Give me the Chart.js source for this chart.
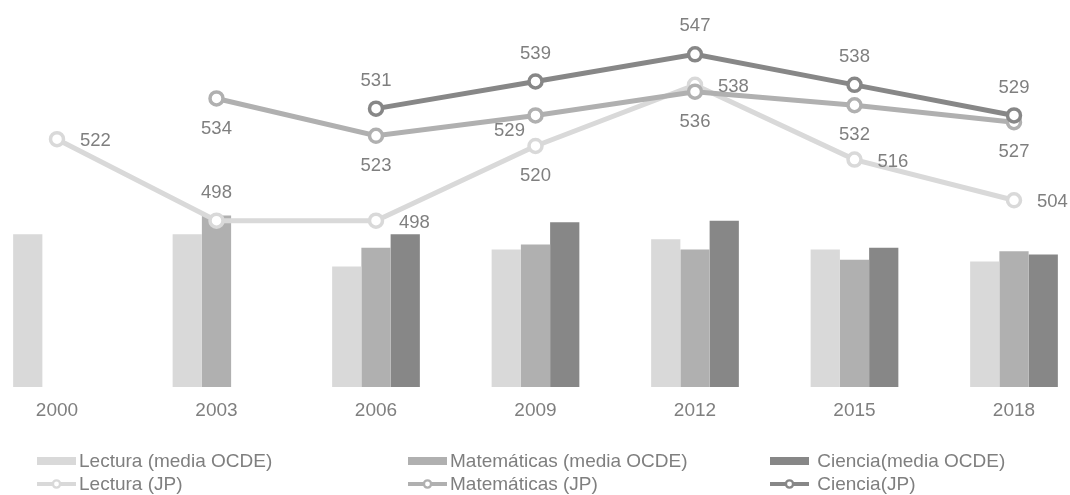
<!DOCTYPE html>
<html>
<head>
<meta charset="utf-8">
<script src="https://cdn.jsdelivr.net/npm/chart.js@4.4.0/dist/chart.umd.min.js"></script>
<style>
    html, body { margin: 0; padding: 0; background: #fff; }
    #wrap { position: relative; width: 1070px; height: 495px; font-family: "Liberation Sans", Arial, sans-serif; }
    #chart-box { position: absolute; left: 0; top: 0; width: 1070px; height: 422px; }
    #legend { position: absolute; left: 0; top: 0; width: 1070px; height: 495px; pointer-events: none; }
    .leg-item { position: absolute; display: flex; align-items: center; height: 23px; font-size: 19px; color: #7f7f7f; white-space: pre; }
    .leg-item svg { margin-right: 3px; }
</style>
</head>
<body>
<div id="wrap">
    <div id="chart-box"><canvas id="pisa-chart"></canvas></div>
    <div id="legend"></div>
</div>
<script>
const years = ['2000', '2003', '2006', '2009', '2012', '2015', '2018'];

// media OCDE (bars)
const lecturaOcde = [494, 494, 484.5, 489.5, 492.5, 489.5, 486];
const matematicasOcde = [null, 499.5, 490, 491, 489.5, 486.5, 489];
const cienciaOcde = [null, null, 494, 497.5, 498, 490, 488];

// Japón (lines)
const lecturaJp = [522, 498, 498, 520, 538, 516, 504];
const matematicasJp = [null, 534, 523, 529, 536, 532, 527];
const cienciaJp = [null, null, 531, 539, 547, 538, 529];

const seriesNames = [
    'Lectura (media OCDE)', 'Matemáticas (media OCDE)', ' Ciencia(media OCDE)',
    'Lectura (JP)', 'Matemáticas (JP)', ' Ciencia(JP)'
];

const axisMin = 449;
const axisMax = 563;

const colorLectura = '#d9d9d9';
const colorMatematicas = '#b0b0b0';
const colorCiencia = '#878787';
const textColor = '#7f7f7f';

// where each value label sits relative to its point
const lecturaLabelPos = ['right', 'above', 'right', 'below', 'right', 'right', 'right'];
const matematicasLabelPos = [null, 'below', 'below', 'belowLeft', 'below', 'below', 'below'];
const cienciaLabelPos = [null, null, 'above', 'above', 'above', 'above', 'above'];

const pointLabels = {
    id: 'pointLabels',
    afterDatasetsDraw(chart) {
        const ctx = chart.ctx;
        ctx.save();
        ctx.font = '18.5px "Liberation Sans", Arial, sans-serif';
        ctx.fillStyle = textColor;
        ctx.textBaseline = 'middle';
        chart.data.datasets.forEach((ds, i) => {
            if (!ds.labelPos) return;
            const meta = chart.getDatasetMeta(i);
            meta.data.forEach((pt, j) => {
                const v = ds.data[j];
                const pos = ds.labelPos[j];
                if (v === null || !pos) return;
                let x = pt.x, y = pt.y;
                ctx.textAlign = 'center';
                if (pos === 'right') { ctx.textAlign = 'left'; x += 23; y += 2; }
                else if (pos === 'above') { y -= 28; }
                else if (pos === 'below') { y += 30; }
                else if (pos === 'belowLeft') { x -= 26; y += 15; }
                ctx.fillText(String(v), x, y);
            });
        });
        ctx.restore();
    }
};

function lineSet(label, data, color, labelPos, order) {
    return {
        type: 'line',
        label: label,
        data: data,
        borderColor: color,
        borderWidth: 5,
        pointRadius: 6.5,
        pointBorderWidth: 3.5,
        pointBackgroundColor: '#ffffff',
        pointBorderColor: color,
        tension: 0,
        clip: false,
        labelPos: labelPos,
        order: order
    };
}

function barSet(label, data, color) {
    return {
        type: 'bar',
        label: label,
        data: data,
        base: axisMin,
        backgroundColor: color,
        borderWidth: 0,
        clip: { left: 60, right: 60, top: 0, bottom: 0 },
        order: 10
    };
}

function initPisaChart() {
    const ctx = document.getElementById('pisa-chart').getContext('2d');

    new Chart(ctx, {
        type: 'bar',
        data: {
            labels: years,
            datasets: [
                barSet(seriesNames[0], lecturaOcde, colorLectura),
                barSet(seriesNames[1], matematicasOcde, colorMatematicas),
                barSet(seriesNames[2], cienciaOcde, colorCiencia),
                lineSet(seriesNames[3], lecturaJp, colorLectura, lecturaLabelPos, 3),
                lineSet(seriesNames[4], matematicasJp, colorMatematicas, matematicasLabelPos, 2),
                lineSet(seriesNames[5], cienciaJp, colorCiencia, cienciaLabelPos, 1)
            ]
        },
        options: {
            responsive: true,
            maintainAspectRatio: false,
            animation: false,
            events: [],
            layout: {
                autoPadding: false,
                padding: { left: 57, right: 56, top: 0, bottom: 0 }
            },
            datasets: {
                bar: {
                    categoryPercentage: 0.55,
                    barPercentage: 1.0
                }
            },
            scales: {
                x: {
                    offset: false,
                    grid: { display: false, drawTicks: false },
                    border: { display: false },
                    ticks: {
                        padding: 12,
                        color: textColor,
                        font: { family: '"Liberation Sans", Arial, sans-serif', size: 19 }
                    },
                    afterFit: function(scale) { scale.height = 35; }
                },
                y: {
                    display: false,
                    min: axisMin,
                    max: axisMax
                }
            },
            plugins: {
                legend: { display: false },
                tooltip: { enabled: false }
            }
        },
        plugins: [pointLabels]
    });
}

function buildLegend() {
    const box = document.getElementById('legend');
    const colors = [colorLectura, colorMatematicas, colorCiencia];
    const colX = [37, 408, 770];
    const rowTop = [449, 472.5];
    seriesNames.forEach((name, i) => {
        const col = i % 3;
        const row = Math.floor(i / 3);
        const c = colors[col];
        const item = document.createElement('div');
        item.className = 'leg-item';
        item.style.left = colX[col] + 'px';
        item.style.top = rowTop[row] + 'px';
        let marker;
        if (row === 0) {
            marker = '<svg width="39" height="12"><rect x="0" y="2" width="39" height="8" fill="' + c + '"/></svg>';
        } else {
            marker = '<svg width="39" height="12"><line x1="0" y1="6" x2="39" y2="6" stroke="' + c + '" stroke-width="4"/>' +
                '<circle cx="19.5" cy="6" r="3.6" fill="#fff" stroke="' + c + '" stroke-width="2.4"/></svg>';
        }
        item.innerHTML = marker + '<span></span>';
        item.querySelector('span').textContent = name;
        box.appendChild(item);
    });
}

document.addEventListener('DOMContentLoaded', function() {
    initPisaChart();
    buildLegend();
});
</script>
</body>
</html>
